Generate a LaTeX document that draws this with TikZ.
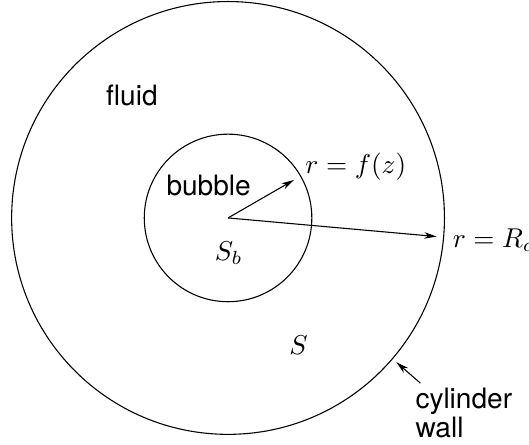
\documentclass[tikz,border=0pt]{standalone}
\usepackage{fontspec}
\setsansfont{TeX Gyre Heros}
\usepackage{tikz}
\usetikzlibrary{arrows.meta}
\tikzset{
  txt/.style={font=\sffamily\fontsize{10.3}{10.9}\selectfont,inner sep=0pt},
  mth/.style={inner sep=0pt},
  rad/.style={line width=.4pt,-{Stealth[length=4.6pt,width=2.4pt,inset=1.4pt]}}
}

\begin{document}
\begin{tikzpicture}[x=1cm,y=1cm]
\path[use as bounding box] (0,0) rectangle (6.82,5.73);
\coordinate (c) at (2.94,2.92);
\draw[line width=.4pt] (c) circle (2.79);
\draw[line width=.4pt] (c) circle (1.08);
\coordinate (fz) at (3.79,3.41);
\coordinate (rc) at (5.63,2.68);
\coordinate (wallpt) at (5.11,1.06);
\draw[rad] (c) -- (fz);
\draw[rad] (c) -- (rc);
\node[txt] (fluid) at (1.70,4.50) {fluid};
\node[txt] (bubble) at (2.69,3.34) {bubble};
\node[mth] (sb) at (2.95,2.46) {$S_b$};
\node[mth] (s) at (3.85,1.28) {$S$};
\node[mth,anchor=west] (fzlbl) at (3.93,3.58) {$r=f(z)$};
\node[mth,anchor=west] (rclbl) at (5.83,2.63) {$r=R_c$};
\node[txt,anchor=north west,align=left] (wall) at (5.35,0.74) {cylinder\\wall};
\draw[rad] ([shift={(0.07,0.05)}]wall.north west) -- (wallpt);
\end{tikzpicture}
\end{document}
